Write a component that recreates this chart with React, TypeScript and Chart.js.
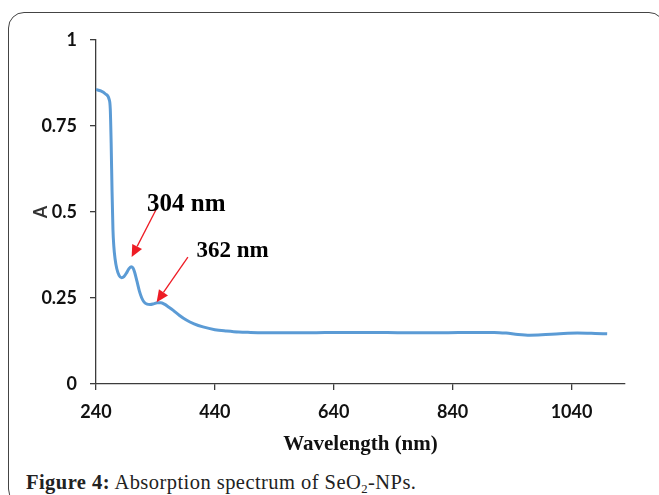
import React, { useEffect, useRef } from "react";
import { Chart, registerables } from "chart.js";

Chart.register(...registerables);

// ---- data ----
const wavelengths = [
  240, 248, 256, 262, 264, 265.5, 267, 268.5, 270, 272, 275, 279, 283, 287, 291, 295, 299, 302,
  305, 309, 313, 317, 321, 326, 331, 337, 343, 349, 355, 362, 370, 380, 392, 405, 420, 440, 460,
  480, 500, 540, 600, 650, 700, 760, 820, 880, 910, 930, 950, 970, 990, 1020, 1050, 1080, 1100,
];
const absorbance = [
  0.856, 0.852, 0.843, 0.828, 0.8, 0.7, 0.56, 0.45, 0.4, 0.365, 0.335, 0.315, 0.309, 0.312, 0.322,
  0.334, 0.341, 0.338, 0.325, 0.298, 0.27, 0.25, 0.238, 0.232, 0.231, 0.233, 0.236, 0.236, 0.232,
  0.224, 0.214, 0.2, 0.186, 0.175, 0.166, 0.158, 0.154, 0.151, 0.15, 0.149, 0.149, 0.15, 0.15,
  0.149, 0.149, 0.15, 0.15, 0.148, 0.144, 0.142, 0.143, 0.146, 0.148, 0.147, 0.146,
];
const xTicks = [240, 440, 640, 840, 1040];
const yTicks = [0, 0.25, 0.5, 0.75, 1];
const peakLabels = ["304 nm", "362 nm"];

// annotation placement (data units), kept apart from the data
const peakLabelAt = [
  [326, 0.502],
  [409, 0.369],
];
const arrowFrom = [
  [342, 0.51],
  [394.6, 0.369],
];
const arrowTo = [
  [300, 0.369],
  [342, 0.238],
];
const peakFontSizes = [25, 23];

const peakPlugin = {
  id: "peakArrows",
  afterDatasetsDraw(chart: any) {
    const { ctx } = chart;
    const x = chart.scales.x;
    const y = chart.scales.y;
    ctx.save();
    peakLabels.forEach((label, i) => {
      const fx = x.getPixelForValue(arrowFrom[i][0]);
      const fy = y.getPixelForValue(arrowFrom[i][1]);
      const tx = x.getPixelForValue(arrowTo[i][0]);
      const ty = y.getPixelForValue(arrowTo[i][1]);
      const ang = Math.atan2(ty - fy, tx - fx);
      const head = 12;
      const hw = 5.5;
      const bx = tx - head * Math.cos(ang);
      const by = ty - head * Math.sin(ang);
      ctx.strokeStyle = "#ee1c25";
      ctx.fillStyle = "#ee1c25";
      ctx.lineWidth = 1.3;
      ctx.beginPath();
      ctx.moveTo(fx, fy);
      ctx.lineTo(bx, by);
      ctx.stroke();
      ctx.beginPath();
      ctx.moveTo(tx, ty);
      ctx.lineTo(bx + hw * Math.sin(ang), by - hw * Math.cos(ang));
      ctx.lineTo(bx - hw * Math.sin(ang), by + hw * Math.cos(ang));
      ctx.closePath();
      ctx.fill();

      ctx.fillStyle = "#000";
      ctx.font = `bold ${peakFontSizes[i]}px "Liberation Serif", "Times New Roman", serif`;
      ctx.textAlign = "left";
      ctx.textBaseline = "alphabetic";
      ctx.fillText(label, x.getPixelForValue(peakLabelAt[i][0]), y.getPixelForValue(peakLabelAt[i][1]));
    });
    ctx.restore();
  },
};

export default function App() {
  const canvasRef = useRef<HTMLCanvasElement | null>(null);

  useEffect(() => {
    if (!canvasRef.current) return;
    const axisColor = "#3c3c3c";
    const tickFont = { family: "Lato, 'Open Sans', sans-serif", size: 18, weight: "bold" as const };
    const chart = new Chart(canvasRef.current, {
      type: "line",
      data: {
        datasets: [
          {
            label: "A",
            data: wavelengths.map((w, i) => ({ x: w, y: absorbance[i] })),
            borderColor: "#5B9BD5",
            backgroundColor: "#5B9BD5",
            borderWidth: 3,
            pointRadius: 0,
            cubicInterpolationMode: "monotone",
            fill: false,
          },
        ],
      },
      options: {
        responsive: false,
        animation: false,
        events: [],
        layout: { padding: { left: 10, top: 40, right: 34, bottom: 0 } },
        plugins: {
          legend: { display: false },
          tooltip: { enabled: false },
          title: { display: false },
        },
        scales: {
          x: {
            type: "linear",
            min: 240,
            max: 1130,
            afterBuildTicks: (scale: any) => {
              scale.ticks = xTicks.map((v) => ({ value: v }));
            },
            afterFit: (scale: any) => {
              scale.height = 76;
            },
            border: { display: true, color: axisColor, width: 1.3 },
            grid: {
              display: true,
              drawOnChartArea: false,
              drawTicks: true,
              tickLength: 6,
              color: axisColor,
              lineWidth: 1.3,
            },
            ticks: {
              color: "#111",
              font: tickFont,
              padding: 11,
              maxRotation: 0,
              autoSkip: false,
              callback: (v: any) => String(v),
            },
            title: {
              display: true,
              text: "Wavelength (nm)",
              color: "#111",
              font: { family: "'Liberation Serif', 'Times New Roman', serif", size: 21, weight: "bold" },
              padding: { top: 0, bottom: 3 },
            },
          },
          y: {
            type: "linear",
            min: 0,
            max: 1,
            afterBuildTicks: (scale: any) => {
              scale.ticks = yTicks.map((v) => ({ value: v }));
            },
            afterFit: (scale: any) => {
              scale.width = 86;
            },
            border: { display: true, color: axisColor, width: 1.3 },
            grid: {
              display: true,
              drawOnChartArea: false,
              drawTicks: true,
              tickLength: 6,
              color: axisColor,
              lineWidth: 1.3,
            },
            ticks: {
              color: "#111",
              font: tickFont,
              padding: 13,
              autoSkip: false,
              callback: (v: any) => String(Number(v)),
            },
            title: {
              display: true,
              text: "A",
              color: "#333",
              font: { family: "Lato, 'Open Sans', sans-serif", size: 18, weight: "bold" },
              padding: { top: 20, bottom: 0 },
            },
          },
        },
      },
      plugins: [peakPlugin],
    });
    return () => chart.destroy();
  }, []);

  return (
    <div
      style={{
        position: "fixed",
        left: 0,
        top: 0,
        width: 659,
        height: 495,
        overflow: "hidden",
        background: "#fff",
      }}
    >
      <div
        style={{
          position: "absolute",
          left: 8,
          top: 12,
          width: 657,
          height: 493,
          border: "1.5px solid #444",
          borderRadius: 16,
          boxSizing: "border-box",
        }}
      />
      <canvas
        ref={canvasRef}
        width={659}
        height={460}
        style={{ position: "absolute", left: 0, top: 0, width: 659, height: 460 }}
      />
      <div
        style={{
          position: "absolute",
          left: 26,
          top: 472,
          fontFamily: "'Liberation Serif', 'Times New Roman', serif",
          fontSize: 20.5,
          letterSpacing: "0.45px",
          lineHeight: "20px",
          color: "#222",
          whiteSpace: "nowrap",
        }}
      >
        <b>Figure 4:</b> Absorption spectrum of SeO
        <span style={{ fontSize: "0.62em", position: "relative", top: "0.3em" }}>2</span>-NPs.
      </div>
    </div>
  );
}
